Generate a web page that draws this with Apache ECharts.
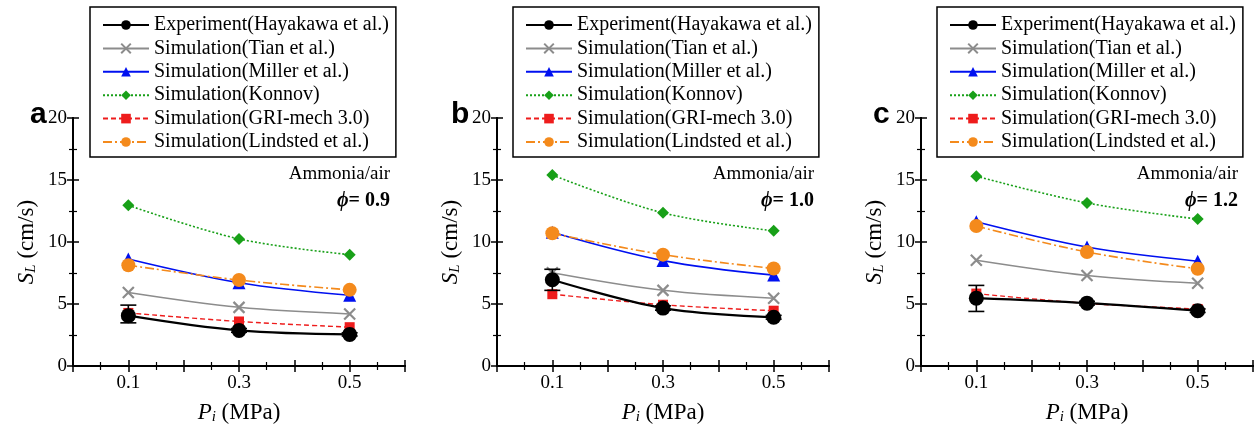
<!DOCTYPE html>
<html><head><meta charset="utf-8">
<script src="https://cdn.jsdelivr.net/npm/echarts@6/dist/echarts.min.js"></script>
<style>html,body{margin:0;padding:0;background:#fff}#c{width:1257px;height:430px}</style>
</head><body><div id="c"></div>
<script>
// ---- data ----
const pressures = [0.1, 0.3, 0.5];
const xTickLabels = ['0.1', '0.3', '0.5'];
const yTicks = [0, 5, 10, 15, 20];
const seriesNames = ['Experiment(Hayakawa et al.)','Simulation(Tian et al.)','Simulation(Miller et al.)','Simulation(Konnov)','Simulation(GRI-mech 3.0)','Simulation(Lindsted et al.)'];
const panelLetters = ['a', 'b', 'c'];
const phiValues = ['0.9', '1.0', '1.2'];

// panel a (phi 0.9)
const expA = [4.06, 2.87, 2.55];
const expLowA = [3.48, 2.72, 2.42];
const expHighA = [4.91, 3.02, 2.68];
const tianA = [5.92, 4.73, 4.20];
const millerA = [8.63, 6.72, 5.71];
const konnovA = [12.96, 10.25, 8.98];
const griA = [4.28, 3.59, 3.13];
const lindstedA = [8.13, 6.93, 6.14];
// panel b (phi 1.0)
const expB = [6.96, 4.67, 3.93];
const expLowB = [6.10, 4.50, 3.78];
const expHighB = [7.80, 4.85, 4.08];
const tianB = [7.52, 6.10, 5.47];
const millerB = [10.78, 8.50, 7.33];
const konnovB = [15.40, 12.35, 10.90];
const griB = [5.79, 4.94, 4.46];
const lindstedB = [10.70, 8.98, 7.86];
// panel c (phi 1.2)
const expC = [5.47, 5.07, 4.46];
const expLowC = [4.40, 4.92, 4.32];
const expHighC = [6.50, 5.22, 4.60];
const tianC = [8.53, 7.30, 6.67];
const millerC = [11.63, 9.59, 8.45];
const konnovC = [15.30, 13.15, 11.85];
const griC = [5.84, 5.05, 4.60];
const lindstedC = [11.29, 9.19, 7.84];

const panels = [
  {exp: expA, lo: expLowA, hi: expHighA, sims: [tianA, millerA, konnovA, griA, lindstedA]},
  {exp: expB, lo: expLowB, hi: expHighB, sims: [tianB, millerB, konnovB, griB, lindstedB]},
  {exp: expC, lo: expLowC, hi: expHighC, sims: [tianC, millerC, konnovC, griC, lindstedC]}
];

// ---- layout / style ----
const SERIF = '"Liberation Serif","Times New Roman",serif';
const SERIF1 = 'Liberation Serif';
const gridLefts = [73, 497, 921];
const gridWidth = 332;
const gridTop = 118, gridHeight = 251;
const legendLefts = [90, 513, 937];
const annotRight = [390, 814, 1238];
const letterX = [30, 451, 873];

const simStyles = [
  {color: '#8c8c8c', type: 'solid', symbol: 'path://M0,0L10,10M10,0L0,10', size: 11, width: 1.5},
  {color: '#0010f0', type: 'solid', symbol: 'triangle', size: 13, width: 1.6},
  {color: '#18a018', type: [2, 2], symbol: 'diamond', size: 12, width: 1.6},
  {color: '#ee1c1c', type: [5, 3], symbol: 'rect', size: 10, width: 1.4},
  {color: '#f48a1c', type: [9, 3, 2, 3], symbol: 'circle', size: 14, width: 1.6}
];

const nameRich = {
  i: {fontFamily: SERIF1, fontStyle: 'italic', fontWeight: 'normal', fontSize: 23, color: '#000'},
  sub: {fontFamily: SERIF1, fontStyle: 'italic', fontWeight: 'normal', fontSize: 15, color: '#000', verticalAlign: 'bottom', padding: [10, 0, 0, 0]},
  n: {fontFamily: SERIF1, fontStyle: 'normal', fontWeight: 'normal', fontSize: 23, color: '#000'}
};

const grid = [], xAxis = [], yAxis = [], series = [], legend = [], graphic = [];

panels.forEach((p, i) => {
  grid.push({left: gridLefts[i], top: gridTop, width: gridWidth, height: gridHeight, containLabel: false});
  const axLine = {show: true, lineStyle: {color: '#000', width: 2}};
  const tick = {show: true, inside: true, length: 6, lineStyle: {color: '#000', width: 1.5}};
  const minor = {show: true, splitNumber: 2, length: 4, lineStyle: {color: '#000', width: 1.2}};
  xAxis.push({
    type: 'value', gridIndex: i, min: 0, max: 0.6, interval: 0.1,
    axisLine: axLine, axisTick: tick, minorTick: minor, splitLine: {show: false},
    axisLabel: {color: '#000', fontFamily: SERIF, fontSize: 19, margin: 8,
      formatter: v => { const s = v.toFixed(1); return xTickLabels.includes(s) ? s : ''; }},
    name: '{i|P}{sub|i}{n| (MPa)}', nameLocation: 'middle', nameGap: 34,
    nameTextStyle: {color: '#000', fontFamily: SERIF1, fontSize: 23, rich: nameRich}
  });
  xAxis.push({
    type: 'value', gridIndex: i, position: 'top', min: 0, max: 0.6, interval: 0.1,
    axisLine: axLine, axisTick: tick, minorTick: minor, splitLine: {show: false}, axisLabel: {show: false}
  });
  yAxis.push({
    type: 'value', gridIndex: i, min: 0, max: 20, interval: 5,
    axisLine: axLine, axisTick: tick, minorTick: minor, splitLine: {show: false},
    axisLabel: {color: '#000', fontFamily: SERIF, fontSize: 19, margin: 6,
      formatter: v => yTicks.includes(v) ? String(v) : ''},
    name: '{i|S}{sub|L}{n| (cm/s)}', nameLocation: 'middle', nameGap: 34, nameRotate: 90,
    nameTextStyle: {color: '#000', fontFamily: SERIF1, fontSize: 23, rich: nameRich}
  });
  yAxis.push({
    type: 'value', gridIndex: i, position: 'right', min: 0, max: 20, interval: 5,
    axisLine: axLine, axisTick: tick, minorTick: minor, splitLine: {show: false}, axisLabel: {show: false}
  });

  const xi = 2 * i, yi = 2 * i;
  // simulations
  p.sims.forEach((vals, k) => {
    const st = simStyles[k];
    series.push({
      type: 'line', name: seriesNames[k + 1], xAxisIndex: xi, yAxisIndex: yi,
      data: pressures.map((x, j) => [x, vals[j]]), smooth: 0.35,
      symbol: st.symbol, symbolSize: st.size,
      lineStyle: {color: st.color, type: st.type, width: st.width},
      itemStyle: k === 0 ? {color: 'none', borderColor: st.color, borderWidth: 2.2} : {color: st.color},
      z: 3 + k, emphasis: {disabled: true}
    });
  });
  // error bars
  series.push({
    type: 'custom', name: 'error bars', xAxisIndex: xi, yAxisIndex: yi, z: 9,
    data: pressures.map((x, j) => [x, p.lo[j], p.hi[j]]),
    renderItem: (params, api) => {
      const a = api.coord([api.value(0), api.value(1)]);
      const b = api.coord([api.value(0), api.value(2)]);
      const w = 8;
      const st = {stroke: '#000', lineWidth: 1.6};
      return {type: 'group', children: [
        {type: 'line', shape: {x1: a[0], y1: a[1], x2: b[0], y2: b[1]}, style: st},
        {type: 'line', shape: {x1: a[0] - w, y1: a[1], x2: a[0] + w, y2: a[1]}, style: st},
        {type: 'line', shape: {x1: b[0] - w, y1: b[1], x2: b[0] + w, y2: b[1]}, style: st}
      ]};
    }
  });
  // experiment
  series.push({
    type: 'line', name: seriesNames[0], xAxisIndex: xi, yAxisIndex: yi,
    data: pressures.map((x, j) => [x, p.exp[j]]), smooth: 0.35,
    symbol: 'circle', symbolSize: 15,
    lineStyle: {color: '#000', width: 2.2}, itemStyle: {color: '#000'}, z: 10, emphasis: {disabled: true}
  });

  legend.push({
    data: seriesNames, left: legendLefts[i], top: 7, orient: 'vertical',
    backgroundColor: '#fff', borderColor: '#000', borderWidth: 1.5, borderRadius: 0,
    padding: [8, 7, 5, 12], itemWidth: 46, itemHeight: 12, itemGap: 3.4,
    textStyle: {fontFamily: SERIF, fontSize: 20, lineHeight: 20, color: '#000'}, z: 20, selectedMode: false
  });

  graphic.push({type: 'text', right: 1257 - annotRight[i], top: 165, z: 30,
    style: {text: 'Ammonia/air', font: '19px ' + SERIF, fill: '#000', textAlign: 'right'}});
  graphic.push({type: 'text', right: 1257 - annotRight[i], top: 191, z: 30,
    style: {text: '{p|\u03d5}{n|= ' + phiValues[i] + '}', fill: '#000',
      rich: {p: {fontFamily: SERIF, fontStyle: 'italic', fontWeight: 'bold', fontSize: 20, fill: '#000'},
             n: {fontFamily: SERIF, fontWeight: 'bold', fontSize: 20, fill: '#000'}}}});
  graphic.push({type: 'text', left: letterX[i], top: 100, z: 30,
    style: {text: panelLetters[i], font: 'bold 30px "Liberation Sans", Arial, sans-serif', fill: '#000'}});
});

const chart = echarts.init(document.getElementById('c'), null, {renderer: 'canvas'});
chart.setOption({animation: false, backgroundColor: '#fff', grid, xAxis, yAxis, series, legend, graphic});
</script></body></html>
